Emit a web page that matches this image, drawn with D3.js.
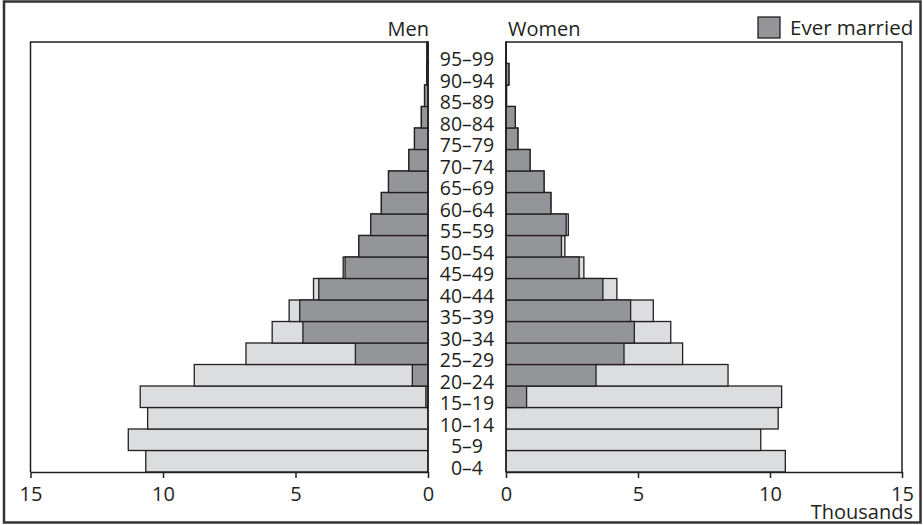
<!DOCTYPE html>
<html>
<head>
<meta charset="utf-8">
<script src="https://cdn.jsdelivr.net/npm/d3@7"></script>
<style>
  body { margin: 0; background: #fff; }
  svg text { font-family: "Open Sans", "Noto Sans", sans-serif; fill: #231f20; }
</style>
</head>
<body>
<div id="chart"></div>
<script>
// age groups, youngest first (thousands)
var ages = ["0–4", "5–9", "10–14", "15–19", "20–24", "25–29", "30–34", "35–39", "40–44", "45–49",
            "50–54", "55–59", "60–64", "65–69", "70–74", "75–79", "80–84", "85–89", "90–94", "95–99"];
var menTotal = [10.65, 11.31, 10.58, 10.86, 8.82, 6.87, 5.88, 5.24, 4.32, 3.20,
                2.61, 2.16, 1.76, 1.49, 0.72, 0.51, 0.25, 0.13, 0.05, 0.04];
var menMarried = [0, 0, 0, 0.08, 0.59, 2.74, 4.72, 4.84, 4.12, 3.13,
                  2.61, 2.16, 1.76, 1.49, 0.72, 0.51, 0.25, 0.13, 0.05, 0.04];
var womenTotal = [10.58, 9.65, 10.31, 10.44, 8.41, 6.69, 6.24, 5.58, 4.20, 2.95,
                  2.23, 2.36, 1.70, 1.44, 0.91, 0.45, 0.35, 0.02, 0.11, 0.01];
var womenMarried = [0, 0, 0, 0.78, 3.41, 4.47, 4.86, 4.72, 3.67, 2.77,
                    2.10, 2.28, 1.70, 1.44, 0.91, 0.45, 0.35, 0.02, 0.11, 0.01];
var xTicks = [0, 5, 10, 15];

var width = 923, height = 525;
var ink = "#231f20", light = "#dcdddf", dark = "#939598";
var plotTop = 42, plotBottom = 472;

var svg = d3.select("#chart").append("svg")
  .attr("width", width)
  .attr("height", height);

// outer frame
svg.append("rect")
  .attr("x", 4).attr("y", 1.5)
  .attr("width", 916.5).attr("height", 521)
  .attr("fill", "none").attr("stroke", "#333").attr("stroke-width", 2.5);

var y = d3.scaleBand().domain(ages.slice().reverse()).range([plotTop, plotBottom]).padding(0);
var xMen = d3.scaleLinear().domain([15, 0]).range([30.5, 428]);
var xWomen = d3.scaleLinear().domain([0, 15]).range([506, 902]);

// panel outlines
svg.append("path")
  .attr("d", "M" + xMen(0) + "," + plotTop + "H" + xMen(15) + "V" + plotBottom)
  .attr("fill", "none").attr("stroke", ink).attr("stroke-width", 1.5);
svg.append("path")
  .attr("d", "M" + xWomen(0) + "," + plotTop + "H" + xWomen(15) + "V" + plotBottom)
  .attr("fill", "none").attr("stroke", ink).attr("stroke-width", 1.5);

function drawSide(scale, total, married) {
  var g = svg.append("g");
  var rows = ages.map(function (a, i) { return { age: a, total: total[i], married: married[i] }; });
  g.selectAll(".tot").data(rows).enter().append("rect")
    .attr("class", "tot")
    .attr("x", function (d) { return Math.min(scale(0), scale(d.total)); })
    .attr("y", function (d) { return y(d.age); })
    .attr("width", function (d) { return Math.abs(scale(d.total) - scale(0)); })
    .attr("height", y.bandwidth())
    .attr("fill", light).attr("stroke", ink).attr("stroke-width", 1.3);
  g.selectAll(".mar").data(rows.filter(function (d) { return d.married > 0; })).enter().append("rect")
    .attr("class", "mar")
    .attr("x", function (d) { return Math.min(scale(0), scale(d.married)); })
    .attr("y", function (d) { return y(d.age); })
    .attr("width", function (d) { return Math.abs(scale(d.married) - scale(0)); })
    .attr("height", y.bandwidth())
    .attr("fill", dark).attr("stroke", ink).attr("stroke-width", 1.3);
}
drawSide(xMen, menTotal, menMarried);
drawSide(xWomen, womenTotal, womenMarried);

// axes
function drawAxis(scale) {
  var ax = svg.append("g")
    .attr("transform", "translate(0," + plotBottom + ")")
    .call(d3.axisBottom(scale).tickValues(xTicks).tickSize(6).tickPadding(9).tickSizeOuter(0));
  ax.select(".domain").attr("stroke", ink).attr("stroke-width", 1.5);
  ax.selectAll(".tick line").attr("stroke", ink).attr("stroke-width", 1.5);
  ax.selectAll(".tick text").attr("font-size", 20).attr("fill", ink)
    .style("font-family", "'Open Sans', 'Noto Sans', sans-serif");
  // zero line
  svg.append("line")
    .attr("x1", scale(0)).attr("x2", scale(0))
    .attr("y1", plotTop).attr("y2", plotBottom)
    .attr("stroke", ink).attr("stroke-width", 1.5);
}
drawAxis(xMen);
drawAxis(xWomen);

// age labels
svg.selectAll(".age").data(ages).enter().append("text")
  .attr("class", "age")
  .attr("x", 467)
  .attr("y", function (d) { return y(d) + y.bandwidth() + 2.5; })
  .attr("text-anchor", "middle")
  .attr("font-size", 19.5)
  .text(function (d) { return d; });

// titles
svg.append("text").attr("x", 429).attr("y", 36).attr("text-anchor", "end")
  .attr("font-size", 20).text("Men");
svg.append("text").attr("x", 508).attr("y", 36)
  .attr("font-size", 20).text("Women");
svg.append("text").attr("x", 913).attr("y", 519).attr("text-anchor", "end")
  .attr("font-size", 20).text("Thousands");

// legend
svg.append("rect").attr("x", 758).attr("y", 17).attr("width", 22).attr("height", 21)
  .attr("fill", dark).attr("stroke", ink).attr("stroke-width", 1.3);
svg.append("text").attr("x", 790).attr("y", 35)
  .attr("font-size", 20.5).text("Ever married");
</script>
</body>
</html>
